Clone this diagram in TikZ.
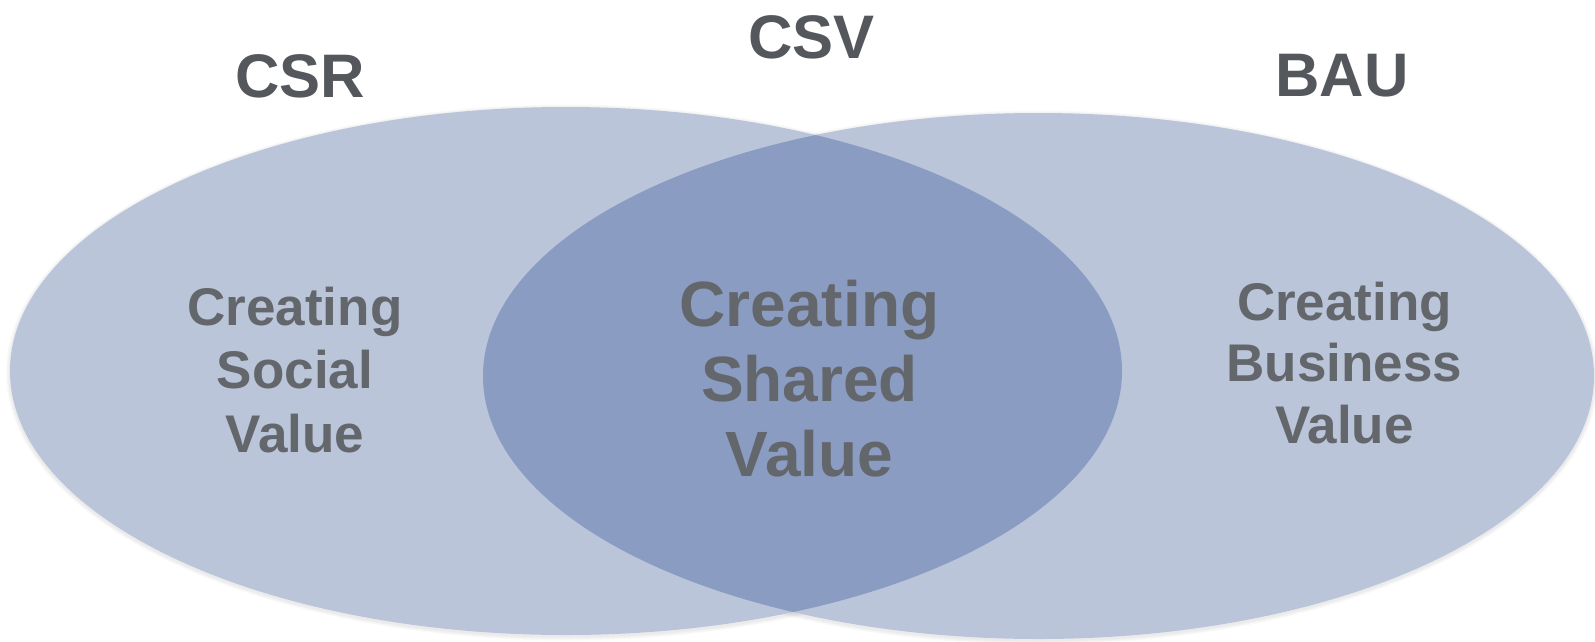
\documentclass[tikz,border=0pt]{standalone}
\usepackage{fontspec}
\setmainfont{Liberation Sans}
\definecolor{single}{HTML}{BAC5DA}
\definecolor{overlap}{HTML}{8A9CC1}
\definecolor{txt}{HTML}{63666A}
\definecolor{head}{HTML}{54585C}
\begin{document}
\begin{tikzpicture}[x=1pt,y=-1pt,
  header/.style={font=\bfseries\fontsize{61.5}{70}\selectfont, text=head, anchor=base, inner sep=0},
  body/.style={font=\bfseries\fontsize{53}{63.5}\selectfont, text=txt, align=center, anchor=north, inner sep=0},
  bodyr/.style={font=\bfseries\fontsize{53}{61.5}\selectfont, text=txt, align=center, anchor=north, inner sep=0},
  bigbody/.style={font=\bfseries\fontsize{64}{75}\selectfont, text=txt, align=center, anchor=north, inner sep=0}]
\useasboundingbox (0,0) rectangle (1595,641);
% soft shadows
\foreach \d in {1,2,3,4}{
  \fill[black, opacity=0.018] (566,372.5) ellipse [x radius=556+\d, y radius=264+\d];
  \fill[black, opacity=0.018] (1038.5,377.5) ellipse [x radius=555.5+\d, y radius=263+\d];
}
% ellipses
\fill[single] (566,371) ellipse [x radius=556, y radius=264];
\fill[single] (1038.5,376) ellipse [x radius=555.5, y radius=263];
\begin{scope}
  \clip (566,371) ellipse [x radius=556, y radius=264];
  \fill[overlap] (1038.5,376) ellipse [x radius=555.5, y radius=263];
\end{scope}
% headers
\node[header] (csr) at (300,97) {CSR};
\node[header] (csv) at (811.5,58) {CSV};
\node[header] (bau) at (1342,96) {BAU};
% body texts
\node[body] (social) at (295,286.5) {Creating\\Social\\Value};
\node[bigbody] (shared) at (809.5,279.5) {Creating\\Shared\\Value};
\node[bodyr] (business) at (1344.5,281.5) {Creating\\Business\\Value};
\end{tikzpicture}
\end{document}
